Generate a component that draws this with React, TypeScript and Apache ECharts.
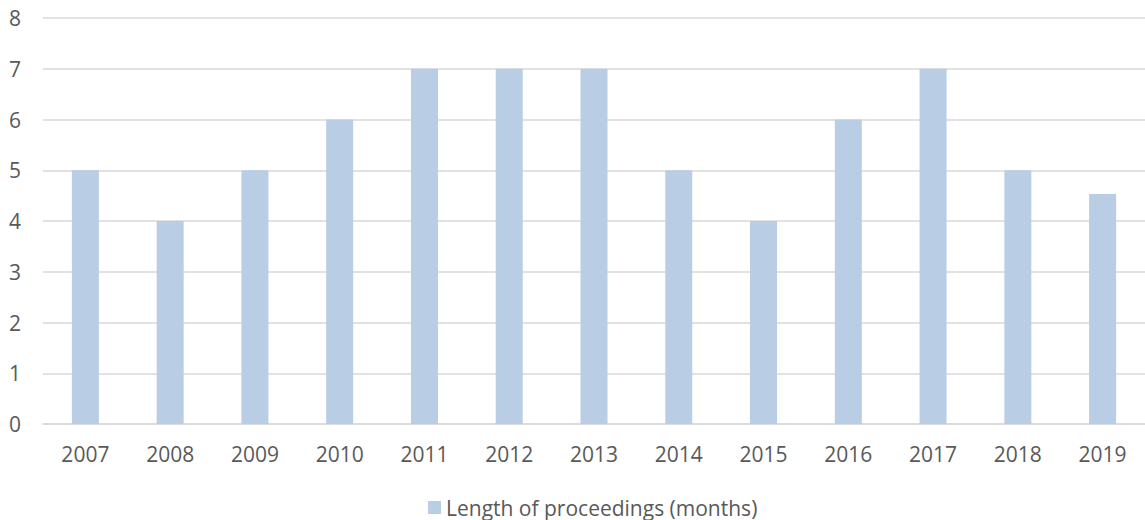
import React, { useEffect, useRef } from "react";
import * as echarts from "echarts";

const categories = ["2007", "2008", "2009", "2010", "2011", "2012", "2013", "2014", "2015", "2016", "2017", "2018", "2019"];
const lengthMonths = [5, 4, 5, 6, 7, 7, 7, 5, 4, 6, 7, 5, 4.53];
const seriesName = "Length of proceedings (months)";

export default function App() {
  const ref = useRef<HTMLDivElement>(null);
  useEffect(() => {
    if (!ref.current) return;
    const chart = echarts.init(ref.current, undefined, { renderer: "svg" });
    const font = "'Open Sans', sans-serif";
    chart.setOption({
      animation: false,
      backgroundColor: "#ffffff",
      textStyle: { fontFamily: font },
      grid: { left: 43, right: 0, top: 18, bottom: 96, containLabel: false },
      legend: {
        data: [seriesName],
        bottom: -3,
        left: 423,
        icon: "rect",
        itemWidth: 13,
        itemHeight: 13,
        itemGap: 8,
        textStyle: { color: "#595959", fontSize: 21, fontFamily: font },
      },
      xAxis: {
        type: "category",
        data: categories,
        axisLine: { show: true, lineStyle: { color: "#d9d9d9", width: 1.5 } },
        axisTick: { show: false },
        axisLabel: { color: "#595959", fontSize: 21, margin: 19, fontFamily: font },
      },
      yAxis: {
        type: "value",
        min: 0,
        max: 8,
        interval: 1,
        axisLine: { show: false },
        axisTick: { show: false },
        axisLabel: { color: "#595959", fontSize: 21, margin: 22, fontFamily: font },
        splitLine: { show: true, lineStyle: { color: "#d9d9d9", width: 1.5 } },
      },
      series: [
        {
          name: seriesName,
          type: "bar",
          data: lengthMonths,
          barWidth: 27,
          itemStyle: { color: "#b9cde5" },
        },
      ],
    });
    return () => chart.dispose();
  }, []);
  return <div ref={ref} style={{ position: "fixed", left: 0, top: 0, width: 1145, height: 520 }} />;
}
